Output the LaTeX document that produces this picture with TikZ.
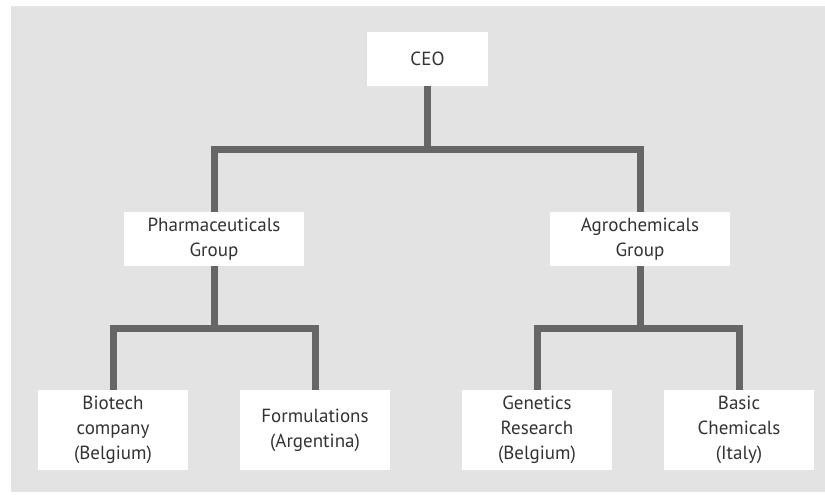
\documentclass[tikz,border=0pt]{standalone}
\usepackage{fontspec}
\setmainfont{PT Sans}
\usetikzlibrary{calc}
\begin{document}
\begin{tikzpicture}[x=1pt,y=-1pt,
  unit/.style={fill=white, inner sep=0pt, align=center, text=black!80,
    font=\fontsize{19}{25}\selectfont},
  topbox/.style={unit, minimum width=121pt, minimum height=54pt},
  groupbox/.style={unit, minimum width=180pt, minimum height=54pt},
  leafbox/.style={unit, minimum width=150pt, minimum height=80pt},
  conn/.style={draw=black!60, line width=7pt}]
  % canvas and grey panel
  \fill[white] (0,0) rectangle (825,495);
  \useasboundingbox (0,0) rectangle (825,495);
  \fill[black!11] (11,6) rectangle (825,492);

  % boxes
  \node[topbox]   (ceo)    at (427.5,59)  {CEO};
  \node[groupbox] (pharma) at (214,239)   {Pharmaceuticals\\Group};
  \node[groupbox] (agro)   at (640,239)   {Agrochemicals\\Group};
  \node[leafbox]  (bio)    at (113,430)   {Biotech\\company\\(Belgium)};
  \node[leafbox]  (form)   at (315,430)   {Formulations\\(Argentina)};
  \node[leafbox]  (gen)    at (537,430)   {Genetics\\Research\\(Belgium)};
  \node[leafbox]  (basic)  at (739,430)   {Basic\\Chemicals\\(Italy)};

  % reporting lines
  \draw[conn] (ceo.south) |- ($(ceo.south)!.5!(pharma.north)$) -| (pharma.north);
  \draw[conn] (ceo.south) |- ($(ceo.south)!.5!(agro.north)$) -| (agro.north);
  \draw[conn] (pharma.south) |- ($(pharma.south)!.5!(bio.north)$) -| (bio.north);
  \draw[conn] (pharma.south) |- ($(pharma.south)!.5!(form.north)$) -| (form.north);
  \draw[conn] (agro.south) |- ($(agro.south)!.5!(gen.north)$) -| (gen.north);
  \draw[conn] (agro.south) |- ($(agro.south)!.5!(basic.north)$) -| (basic.north);
\end{tikzpicture}
\end{document}
